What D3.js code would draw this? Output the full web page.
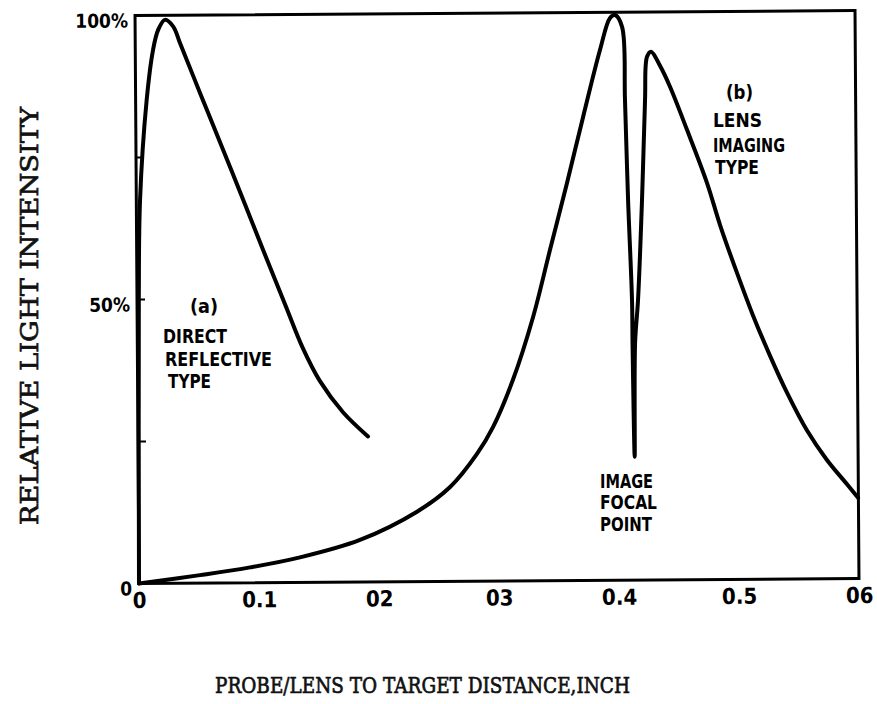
<!DOCTYPE html>
<html lang="en">
<head>
<meta charset="UTF-8">
<title>Relative light intensity vs distance</title>
<script src="https://d3js.org/d3.v7.min.js"></script>
<style>
  body { margin: 0; background: #fff; }
  .lbl { font-family: "DejaVu Sans Condensed", "DejaVu Sans", sans-serif; font-stretch: condensed; font-weight: bold; fill: #000; }
  .title { font-family: "DejaVu Serif", "Liberation Serif", serif; fill: #111; stroke: #111; stroke-width: 0.7px; }
</style>
</head>
<body>
<script>
// tick values and labels (as printed)
const xTicks = [0, 0.1, 0.2, 0.3, 0.4, 0.5, 0.6];
const xTickLabels = ["0", "0.1", "02", "03", "0.4", "0.5", "06"];
const yTicks = [0, 50, 100];
const yTickLabels = ["0", "50%", "100%"];
const yMinorTicks = [25, 50, 75];

// (a) direct reflective type
const directX = [0, 0.0015, 0.0031, 0.0092, 0.0148, 0.0191, 0.0249, 0.0318, 0.0373, 0.0537, 0.0701, 0.0906, 0.1053, 0.1233, 0.138, 0.152, 0.171, 0.1917];
const directY = [0, 50, 67.5, 85.1, 93.9, 97.4, 99.2, 98.0, 95.1, 86.3, 77.6, 66.6, 58.6, 49.0, 41.2, 35.4, 29.9, 25.6];

// (b) lens imaging type
const lensX = [0, 0.0509, 0.0926, 0.1343, 0.1844, 0.2321, 0.2598, 0.2824, 0.2959, 0.3128, 0.3299, 0.3444, 0.359, 0.3728, 0.3873, 0.3958, 0.4, 0.4058, 0.4078, 0.4098, 0.4125, 0.4127, 0.4138, 0.4148, 0.4175, 0.4214, 0.4245, 0.4264, 0.4298, 0.4372, 0.4454, 0.4593, 0.4757, 0.4863, 0.5002, 0.5133, 0.5272, 0.5411, 0.5576, 0.574, 0.5906, 0.5997];
const lensY = [0, 1.4, 2.7, 4.4, 7.4, 12.3, 16.6, 22.4, 27.1, 35.4, 46.4, 58.2, 70.0, 81.6, 93.4, 99.0, 99.5, 97.4, 84.5, 66.9, 49.1, 41.0, 21.7, 41.7, 49.3, 66.9, 84.5, 92.1, 93.0, 90.5, 86.8, 79.2, 69.8, 62.4, 53.9, 46.4, 39.3, 32.8, 26.1, 20.9, 16.6, 14.2];

const width = 877, height = 704;
const plotLeft = 137, plotRight = 857, plotTop = 13, plotBottom = 581;

const svg = d3.select("body").append("svg")
    .attr("width", width)
    .attr("height", height);

// the scan is slightly tilted
const plot = svg.append("g")
    .attr("transform", "rotate(-0.4, 497, 297)");

const x = d3.scaleLinear().domain([0, 0.6]).range([plotLeft, plotRight]);
const y = d3.scaleLinear().domain([0, 100]).range([plotBottom, plotTop]);

plot.append("rect")
    .attr("x", plotLeft).attr("y", plotTop)
    .attr("width", plotRight - plotLeft).attr("height", plotBottom - plotTop)
    .attr("fill", "none").attr("stroke", "#000").attr("stroke-width", 3);

// small inward ticks on the y axis
plot.append("g").selectAll("line")
    .data(yMinorTicks)
    .join("line")
    .attr("x1", plotLeft).attr("x2", plotLeft + 8)
    .attr("y1", d => y(d)).attr("y2", d => y(d))
    .attr("stroke", "#000").attr("stroke-width", 2);

const xAxis = plot.append("g")
    .attr("transform", `translate(0,${plotBottom})`)
    .call(d3.axisBottom(x).tickValues(xTicks).tickSize(0).tickPadding(8)
        .tickFormat((d, i) => xTickLabels[i]));
xAxis.select(".domain").remove();
xAxis.selectAll("text").attr("class", "lbl").attr("font-size", 22).attr("dy", "0.75em");

const yAxis = plot.append("g")
    .attr("transform", `translate(${plotLeft},0)`)
    .call(d3.axisLeft(y).tickValues(yTicks).tickSize(0).tickPadding(7)
        .tickFormat((d, i) => yTickLabels[i]));
yAxis.select(".domain").remove();
yAxis.selectAll("text").attr("class", "lbl").attr("font-size", 19).attr("dy", "0.6em");

const line = d3.line()
    .x(d => x(d[0]))
    .y(d => y(d[1]))
    .curve(d3.curveCatmullRom.alpha(0.5));

const curves = [d3.zip(directX, directY), d3.zip(lensX, lensY)];
plot.append("g").selectAll("path")
    .data(curves)
    .join("path")
    .attr("d", line)
    .attr("fill", "none")
    .attr("stroke", "#000")
    .attr("stroke-width", 4)
    .attr("stroke-linejoin", "round")
    .attr("stroke-linecap", "round");

// annotations: [text, x, baseline, width]
const notes = [
    ["(a)", 190, 313, 28],
    ["DIRECT", 163, 343, 64],
    ["REFLECTIVE", 165, 366, 107],
    ["TYPE", 168, 388, 43],
    ["(b)", 726, 99, 27],
    ["LENS", 713, 127, 49],
    ["IMAGING", 713, 152, 72],
    ["TYPE", 715, 174, 44],
    ["IMAGE", 600, 488, 53],
    ["FOCAL", 600, 509, 57],
    ["POINT", 600, 531, 52]
];
svg.append("g").selectAll("text")
    .data(notes)
    .join("text")
    .attr("class", "lbl")
    .attr("font-size", 19)
    .attr("x", d => d[1])
    .attr("y", d => d[2])
    .attr("textLength", d => d[3])
    .attr("lengthAdjust", "spacingAndGlyphs")
    .text(d => d[0]);

svg.append("text")
    .attr("class", "title")
    .attr("font-size", 22)
    .attr("x", 215).attr("y", 693)
    .attr("textLength", 415)
    .attr("lengthAdjust", "spacingAndGlyphs")
    .text("PROBE/LENS TO TARGET DISTANCE,INCH");

svg.append("text")
    .attr("class", "title")
    .attr("font-size", 25)
    .attr("transform", "translate(38,316) rotate(-90)")
    .attr("text-anchor", "middle")
    .attr("textLength", 418)
    .attr("lengthAdjust", "spacingAndGlyphs")
    .text("RELATIVE LIGHT INTENSITY");
</script>
</body>
</html>
